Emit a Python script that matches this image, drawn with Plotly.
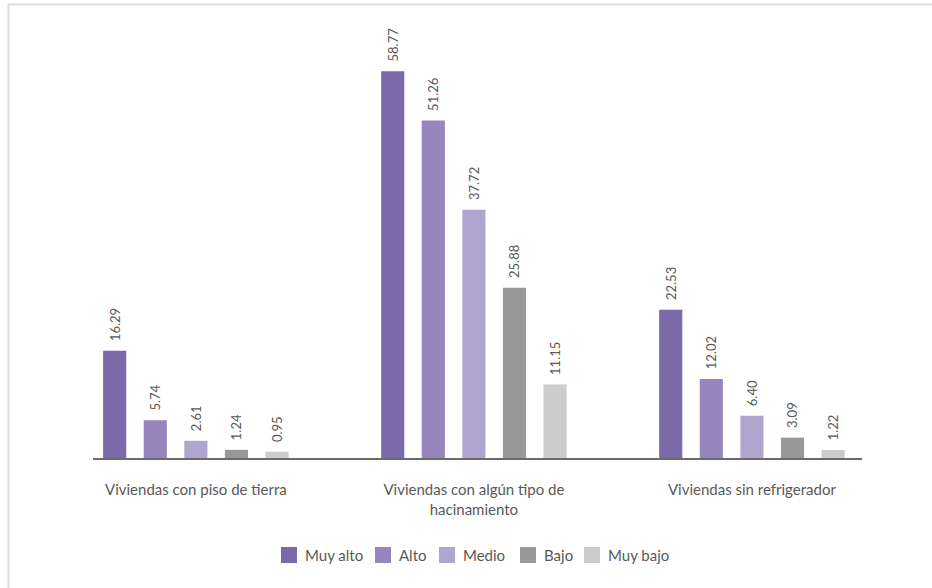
import plotly.graph_objects as go

categories = [
    "Viviendas con piso de tierra",
    "Viviendas con algún tipo de<br>hacinamiento",
    "Viviendas sin refrigerador",
]
series_names = ["Muy alto", "Alto", "Medio", "Bajo", "Muy bajo"]
series_values = {
    "Muy alto": [16.29, 58.77, 22.53],
    "Alto": [5.74, 51.26, 12.02],
    "Medio": [2.61, 37.72, 6.40],
    "Bajo": [1.24, 25.88, 3.09],
    "Muy bajo": [0.95, 11.15, 1.22],
}
series_colors = ["#7b6aa9", "#9686bb", "#b0a5cf", "#999999", "#cccccc"]

W, H = 932, 588
ML, MR, MT, MB = 93, 70, 40, 130
TEXT = "#595959"
FONT = "Lato"

fig = go.Figure()
for name, color in zip(series_names, series_colors):
    vals = series_values[name]
    fig.add_trace(go.Bar(
        x=categories, y=vals, name=name,
        marker=dict(color=color, line=dict(width=0)),
        text=["\u00a0\u00a0" + f"{v:.2f}" for v in vals],
        textposition="outside", textangle=-90, constraintext="none",
        textfont=dict(family=FONT, size=13, color=TEXT),
        cliponaxis=False, showlegend=False,
    ))

pw = W - ML - MR
ph = H - MT - MB
def px_to_paper_x(px):
    return (px - ML) / pw
def px_to_paper_y(py):
    return (H - MB - py) / ph

# outer frame (top and left edges)
fig.add_shape(type="line", xref="paper", yref="paper",
              x0=px_to_paper_x(8), x1=px_to_paper_x(W + 5),
              y0=px_to_paper_y(4.5), y1=px_to_paper_y(4.5),
              line=dict(color="#dcdcdc", width=2))
fig.add_shape(type="line", xref="paper", yref="paper",
              x0=px_to_paper_x(8.5), x1=px_to_paper_x(8.5),
              y0=px_to_paper_y(4), y1=px_to_paper_y(H + 5),
              line=dict(color="#dcdcdc", width=2))

# legend row: square swatch followed by its label
legend_x = [281, 375, 439, 520, 584]
legend_y = 555
sw = 16
for name, color, lx in zip(series_names, series_colors, legend_x):
    fig.add_shape(type="rect", xref="paper", yref="paper",
                  x0=px_to_paper_x(lx), x1=px_to_paper_x(lx + sw),
                  y0=px_to_paper_y(legend_y + sw / 2), y1=px_to_paper_y(legend_y - sw / 2),
                  fillcolor=color, line=dict(width=0))
    fig.add_annotation(xref="paper", yref="paper",
                       x=px_to_paper_x(lx + sw + 6), y=px_to_paper_y(legend_y),
                       xanchor="left", yanchor="middle", showarrow=False,
                       text=name, font=dict(family=FONT, size=15, color=TEXT))

fig.update_layout(
    width=W, height=H,
    margin=dict(l=ML, r=MR, t=MT, b=MB, pad=0),
    paper_bgcolor="white", plot_bgcolor="white",
    barmode="group", bargap=0.27, bargroupgap=0.43,
    font=dict(family=FONT, size=15, color=TEXT),
    showlegend=False,
    xaxis=dict(
        type="category", range=[-0.37, 2.396],
        showline=True, linecolor="#6b6b6b", linewidth=2,
        showgrid=False, zeroline=False, ticks="",
        ticklabelstandoff=17,
        tickfont=dict(family=FONT, size=15, color=TEXT),
    ),
    yaxis=dict(range=[0, 63.5], visible=False, fixedrange=True),
)

fig.write_html("out.html")
